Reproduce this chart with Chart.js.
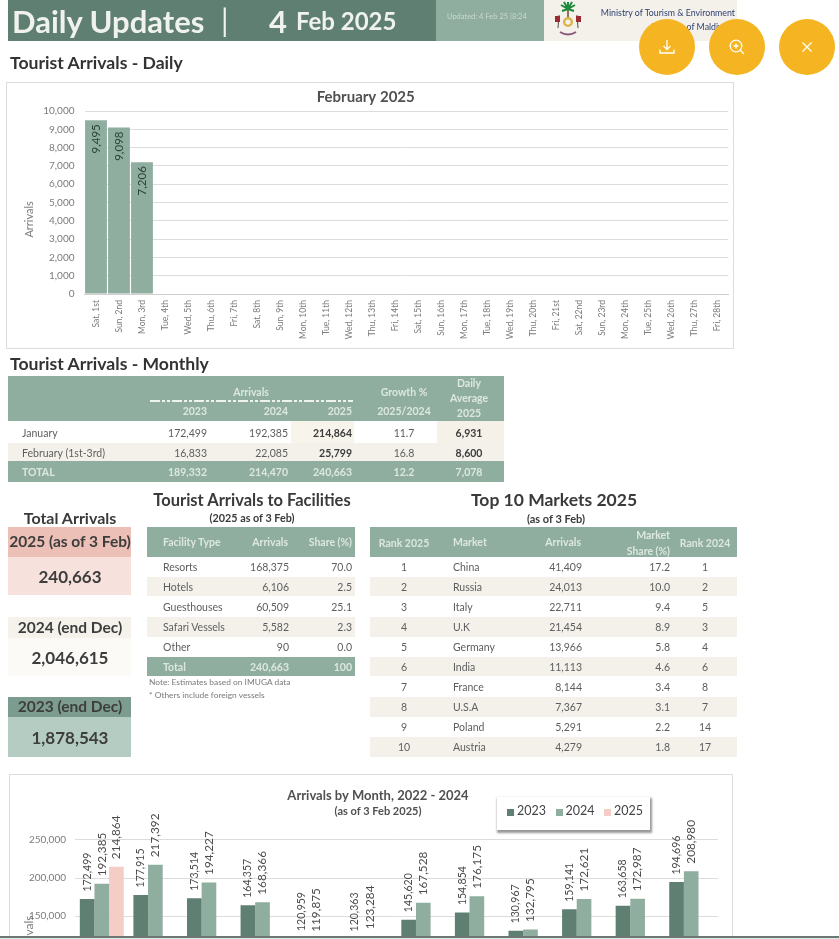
<!DOCTYPE html>
<html><head><meta charset="utf-8">
<script src="https://cdn.jsdelivr.net/npm/chart.js@4"></script>
<style>
html,body{margin:0;padding:0;width:839px;height:939px;overflow:hidden;background:#fff;font-family:Lato,"Open Sans",sans-serif}
#page{position:relative;width:839px;height:939px;overflow:hidden}
.r{position:absolute}
.t{position:absolute;white-space:nowrap;line-height:1;filter:blur(.3px)}
canvas{display:block;filter:blur(.3px)}
.btn{position:absolute;width:56px;height:56px;border-radius:50%;background:#f5b522;top:19px;display:flex;align-items:center;justify-content:center;z-index:5}
</style></head><body><div id="page">
<div class="btn" style="left:639px"><svg width="18" height="18" viewBox="0 0 18 18" fill="none" stroke="#fff" stroke-width="1.3"><path d="M9 2v9M5.5 8 9 11.5 12.5 8M2 11.5V15h14v-3.500"/></svg></div>
<div class="btn" style="left:709px"><svg width="18" height="18" viewBox="0 0 18 18" fill="none" stroke="#fff" stroke-width="1.3"><circle cx="8" cy="8" r="5.800"/><path d="M12.300 12.300 16 16M8 5.500v5M5.500 8h5"/></svg></div>
<div class="btn" style="left:779px"><svg width="18" height="18" viewBox="0 0 18 18" fill="none" stroke="#fff" stroke-width="1.3"><path d="M4.500 4.500l9 9M13.500 4.500l-9 9"/></svg></div>
<svg class="r" style="left:551px;top:0;z-index:2" width="34" height="38" viewBox="0 0 34 38">
<path d="M17 22V9" stroke="#6b4a2a" stroke-width="1.500"/>
<path d="M17 9 10 5M17 9l7-4M17 9 11 11M17 9l6 2M17 9V2M17 9 13 2M17 9l4-7" stroke="#1f8a3c" stroke-width="2"/>
<path d="M7 28 8 15M27 28 26 15" stroke="#5a4a3a" stroke-width="1"/>
<path d="M4 16h5v6H4zM25 16h5v6h-5z" fill="#9c2b33"/>
<circle cx="17" cy="22" r="5" fill="#d9b54a"/><circle cx="17" cy="22" r="2.600" fill="#f3f1ea"/>
<path d="M9 32q8 5 16 0" stroke="#8a5a7a" stroke-width="2" fill="none"/>
</svg>
<div class="r" id="chart1Frame" style="left:6px;top:82px;width:726px;height:265px;border:1px solid #dcdcdc"><canvas id="daily" width="726" height="265"></canvas></div>
<div class="r" id="chart2Frame" style="left:9px;top:774px;width:722px;height:162px;border:1px solid #dcdcdc;border-bottom:0;overflow:hidden"><canvas id="monthly" width="722" height="290"></canvas></div>
<div class="r" style="left:497px;top:797px;width:153px;height:33px;background:#fff;box-shadow:1px 2px 2px 1px rgba(70,70,70,.55);z-index:3" id="legendBox"></div>
<div class="r" style="left:0;top:936px;width:839px;height:1.500px;background:#6e7672;z-index:4"></div>
<div class="r" style="left:0;top:937.500px;width:839px;height:2px;background:#d3ece8;z-index:4"></div>
</div>
<script>
// ---------- data ----------
const dayLabels = ["Sat, 1st","Sun, 2nd","Mon, 3rd","Tue, 4th","Wed, 5th","Thu, 6th","Fri, 7th","Sat, 8th","Sun, 9th","Mon, 10th","Tue, 11th","Wed, 12th","Thu, 13th","Fri, 14th","Sat, 15th","Sun, 16th","Mon, 17th","Tue, 18th","Wed, 19th","Thu, 20th","Fri, 21st","Sat, 22nd","Sun, 23rd","Mon, 24th","Tue, 25th","Wed, 26th","Thu, 27th","Fri, 28th"];
const dailyArrivals = [9495,9098,7206];
const months = ["Jan","Feb","Mar","Apr","May","Jun","Jul","Aug","Sep","Oct","Nov","Dec"];
const arrivals2023 = [172499,177915,173514,164357,120959,120363,145620,154854,130967,159141,163658,194696];
const arrivals2024 = [192385,217392,194227,168366,119875,123284,167528,176175,132795,172621,172987,208980];
const arrivals2025 = [214864];
const legendYears = ["2023","2024","2025"];
const monthlyRows = [["January","172,499","192,385","214,864","11.7","6,931"],["February (1st-3rd)","16,833","22,085","25,799","16.8","8,600"],["TOTAL","189,332","214,470","240,663","12.2","7,078"]];
const facilityRows = [["Resorts","168,375","70.0"],["Hotels","6,106","2.5"],["Guesthouses","60,509","25.1"],["Safari Vessels","5,582","2.3"],["Other","90","0.0"],["Total","240,663","100"]];
const marketRows = [["1","China","41,409","17.2","1"],["2","Russia","24,013","10.0","2"],["3","Italy","22,711","9.4","5"],["4","U.K","21,454","8.9","3"],["5","Germany","13,966","5.8","4"],["6","India","11,113","4.6","6"],["7","France","8,144","3.4","8"],["8","U.S.A","7,367","3.1","7"],["9","Poland","5,291","2.2","14"],["10","Austria","4,279","1.8","17"]];
const totalBlocks = [["2025 (as of 3 Feb)","240,663"],["2024 (end Dec)","2,046,615"],["2023 (end Dec)","1,878,543"]];

// ---------- palette ----------
const DARK="#5f7f73", MID="#8fae9f", PINK="#f3cdc6", CREAM="#f3f1ea", TXT="#5e5e5e", HEAD="#dde7e2", INK="#3c3c3c";

// ---------- page furniture ----------
const page=document.getElementById("page");
function box(x,y,w,h,c){const d=document.createElement("div");d.className="r";d.style.cssText=`left:${x}px;top:${y}px;width:${w}px;height:${h}px;background:${c}`;page.insertBefore(d,page.firstChild);return d;}
function put(s,x,y,size,color,o={}){const d=document.createElement("div");d.className="t";d.textContent=s;
 const tx=o.a==="r"?"-100%":o.a==="c"?"-50%":"0";
 d.style.cssText=`left:${x}px;top:${y}px;font-size:${size}px;color:${color};font-weight:${o.b?700:400};transform:translate(${tx},-50%);z-index:${o.z||2}`;page.appendChild(d);return d;}

// header
box(8,0,428,41,DARK);box(436,0,108,41,MID);box(544,0,193,41,CREAM);
put("Daily Updates",12,21,31,"#f0f2ee",{b:1});
put("|",221,20,30,"#f0f2ee");
put("4",269,21,31,"#f0f2ee",{b:1});
put("Feb 2025",296,21,24,"#f0f2ee",{b:1});
put("Updated: 4 Feb 25 |8:24",447,17,7.5,"#c9d9d1");
put("Ministry of Tourism & Environment",735,13,8.8,"#2f3f70",{a:"r"});
put("Republic of Maldives",731,27,8.8,"#2f3f70",{a:"r"});
put("Tourist Arrivals - Daily",10,63,17.6,"#333",{b:1});
put("Tourist Arrivals - Monthly",10,364,17.6,"#333",{b:1});

// monthly table
box(8,376,496,45,MID);box(8,443,496,18,CREAM);box(8,461,496,21,MID);
box(291,421,63,22,"#f7f4ec");box(291,443,63,18,"#eeeadd");box(437,421,67,22,"#f5f1e8");box(437,443,67,18,"#efe9dc");
put("Arrivals",251,392,10.500,HEAD,{a:"c",b:1});
const dash=box(150,400,203,1.500,"transparent");dash.style.zIndex=2;
dash.style.background="repeating-linear-gradient(90deg,#eef3f0 0 10px,transparent 10px 12px,#eef3f0 12px 15px,transparent 15px 17px,#eef3f0 17px 20px,transparent 20px 22px)";
[["2023",207],["2024",288],["2025",352]].forEach(c=>put(c[0],c[1],411,10.500,HEAD,{a:"r",b:1}));
put("Growth %",404,392,10.500,HEAD,{a:"c",b:1});put("2025/2024",404,411,10.500,HEAD,{a:"c",b:1});
put("Daily",469,383,10.500,HEAD,{a:"c",b:1});put("Average",469,398,10.500,HEAD,{a:"c",b:1});put("2025",469,413,10.500,HEAD,{a:"c",b:1});
const monthlyY=[432.500,452.500,472];
monthlyRows.forEach((r,i)=>{const tot=i===2,c=tot?HEAD:TXT,y=monthlyY[i];
 put(r[0],22,y,10.500,c,{b:tot});put(r[1],207,y,10.500,c,{a:"r",b:tot});put(r[2],288,y,10.500,c,{a:"r",b:tot});
 put(r[3],352,y,10.500,tot?HEAD:INK,{a:"r",b:1});put(r[4],404,y,10.500,c,{a:"c",b:tot});put(r[5],469,y,10.500,tot?HEAD:INK,{a:"c",b:1});});

// total blocks
put("Total Arrivals",70,518,16,"#3a3a3a",{a:"c",b:1});
const blockGeo=[[527,30,"#ecc0b6",38,"#f7e1dc"],[617,21,"#f4f2ea",38,"#fbfaf6"],[697,20,"#7d9c90",40,"#b5ccc2"]];
totalBlocks.forEach((b,i)=>{const g=blockGeo[i];box(8,g[0],123,g[1],g[2]);box(8,g[0]+g[1],123,g[3],g[4]);
 put(b[0],70,g[0]+g[1]/2,15.5,"#3d3d3d",{a:"c",b:1});put(b[1],70,g[0]+g[1]+g[3]/2,17,"#3d3d3d",{a:"c",b:1});});

// facilities table
put("Tourist Arrivals to Facilities",252,500,16.500,"#3a3a3a",{a:"c",b:1});
put("(2025 as of 3 Feb)",252,518,10.8,"#3a3a3a",{a:"c",b:1});
box(147,527,208,30,MID);
put("Facility Type",163,542,10.500,HEAD,{b:1});put("Arrivals",288,542,10.500,HEAD,{a:"r",b:1});put("Share (%)",352,542,10.500,HEAD,{a:"r",b:1});
const rowY=[557,577,596,617,637,657,676,697,717,737,757];
box(147,rowY[1],208,rowY[2]-rowY[1],CREAM);box(147,rowY[3],208,rowY[4]-rowY[3],CREAM);box(147,rowY[5],208,rowY[6]-rowY[5],MID);
facilityRows.forEach((r,i)=>{const tot=i===5,c=tot?HEAD:TXT,y=(rowY[i]+rowY[i+1])/2;
 put(r[0],163,y,10.500,c,{b:tot});put(r[1],289,y,10.500,c,{a:"r",b:tot});put(r[2],352,y,10.500,c,{a:"r",b:tot});});
put("Note: Estimates based on IMUGA data",149,682,8.4,"#7a7a7a");
put("* Others include foreign vessels",149,695,8.4,"#7a7a7a");

// markets table
put("Top 10 Markets 2025",554,500,17.5,"#3a3a3a",{a:"c",b:1});
put("(as of 3 Feb)",556,518,11,"#3a3a3a",{a:"c",b:1});
box(370,527,367,30,MID);
put("Rank 2025",404,542.500,10.500,HEAD,{a:"c",b:1});put("Market",453,542,10.500,HEAD,{b:1});put("Arrivals",581,542,10.500,HEAD,{a:"r",b:1});
put("Market",670,535,10.500,HEAD,{a:"r",b:1});put("Share (%)",670,551,10.500,HEAD,{a:"r",b:1});put("Rank 2024",705,542.500,10.500,HEAD,{a:"c",b:1});
marketRows.forEach((r,i)=>{const y=(rowY[i]+rowY[i+1])/2;
 if(i%2)box(370,rowY[i],367,rowY[i+1]-rowY[i],CREAM);
 put(r[0],404,y,10.500,TXT,{a:"c"});put(r[1],453,y,10.500,TXT);put(r[2],582,y,10.500,TXT,{a:"r"});put(r[3],670,y,10.500,TXT,{a:"r"});put(r[4],705,y,10.500,TXT,{a:"c"});});

// legend
const legendColors=[DARK,MID,PINK];
const lg=document.getElementById("legendBox");
legendYears.forEach((y,i)=>{const sw=document.createElement("div");sw.className="r";const x=10+i*48.500;
 sw.style.cssText=`left:${x}px;top:12px;width:7px;height:7px;background:${legendColors[i]}`;lg.appendChild(sw);
 const t=document.createElement("div");t.className="t";t.textContent=y;t.style.cssText=`left:${x+10}px;top:8px;font-size:12.500px;color:#444`;lg.appendChild(t);});

// ---------- value labels drawn from the library's own elements; title nudge ----------
const rotatedLabels={id:"rotatedLabels",
 afterLayout(chart,args,o){chart.boxes.filter(b=>!b.axis&&b.position==="top").forEach(b=>{b.left+=o.titleShift;b.right+=o.titleShift;});},
 afterDatasetsDraw(chart,args,o){
 const ctx=chart.ctx;ctx.save();ctx.fillStyle=o.color;ctx.textBaseline="middle";
 chart.data.datasets.forEach((ds,di)=>{ctx.font=`${o.sizes[di]}px Lato`;chart.getDatasetMeta(di).data.forEach((el,i)=>{const v=ds.data[i];if(v==null)return;
  ctx.save();ctx.translate(el.x,el.y+(o.inside?o.gap:-o.gap));ctx.rotate(-Math.PI/2);ctx.textAlign=o.inside?"right":"left";
  ctx.fillText(v.toLocaleString("en-US"),0,0);ctx.restore();});});
 ctx.restore();}};

Chart.defaults.font.family="Lato";
const grid="#dcdcdc", tick="#7b7b7b";
new Chart(document.getElementById("daily"),{type:"bar",plugins:[rotatedLabels],
 data:{labels:dayLabels,datasets:[{label:"Arrivals",data:dailyArrivals,backgroundColor:MID,categoryPercentage:1,barPercentage:.95}]},
 options:{responsive:false,animation:false,devicePixelRatio:1,layout:{padding:{top:0,right:0.5,left:0,bottom:0}},
  plugins:{legend:{display:false},tooltip:{enabled:false},
   title:{display:true,text:"February 2025",color:"#505050",font:{size:15,weight:"700"},padding:{top:5,bottom:5}},
   rotatedLabels:{sizes:[11.5],color:"#2b4238",gap:4,inside:true,titleShift:-4}},
  scales:{
   x:{afterFit(s){s.height=54},grid:{display:false,drawTicks:false},border:{color:"#cfcfcf"},
      ticks:{color:tick,font:{size:8.5},minRotation:90,maxRotation:90,autoSkip:false,padding:6}},
   y:{min:0,max:10000,afterFit(s){s.width=77.5},grid:{color:grid,drawTicks:false},border:{display:false},
      title:{display:true,text:"Arrivals            ",color:tick,font:{size:11},padding:{top:16,bottom:0}},
      ticks:{stepSize:1000,color:tick,font:{size:10},padding:10,callback:v=>v.toLocaleString("en-US")}}}}});

new Chart(document.getElementById("monthly"),{type:"bar",plugins:[rotatedLabels],
 data:{labels:months,datasets:[
  {label:"2023",data:arrivals2023,backgroundColor:DARK,categoryPercentage:.82,barPercentage:1},
  {label:"2024",data:arrivals2024,backgroundColor:MID,categoryPercentage:.82,barPercentage:1},
  {label:"2025",data:arrivals2025,backgroundColor:PINK,categoryPercentage:.82,barPercentage:1}]},
 options:{responsive:false,animation:false,devicePixelRatio:1,layout:{padding:{top:0,right:14,left:0,bottom:0}},
  plugins:{legend:{display:false},tooltip:{enabled:false},
   title:{display:true,text:"Arrivals by Month, 2022 - 2024",color:"#505050",font:{size:13,weight:"700"},padding:{top:13,bottom:1}},
   subtitle:{display:true,text:"(as of 3 Feb 2025)",color:"#505050",font:{size:11,weight:"700"},padding:{top:0,bottom:22}},
   rotatedLabels:{sizes:[10.5,11.8,11.8],color:"#4a4a4a",gap:7.5,inside:false,titleShift:14}},
  scales:{
   x:{afterFit(s){s.height=34},grid:{display:false,drawTicks:false},border:{color:"#cfcfcf"},ticks:{color:tick,font:{size:11}}},
   y:{min:0,max:250000,afterFit(s){s.width=65},grid:{color:grid,drawTicks:false},border:{display:false},
      title:{display:true,text:"Arrivals",color:tick,font:{size:12},padding:{top:12,bottom:0}},
      ticks:{stepSize:50000,color:tick,font:{size:10},padding:9,callback:v=>v.toLocaleString("en-US")}}}}});
</script></body></html>
